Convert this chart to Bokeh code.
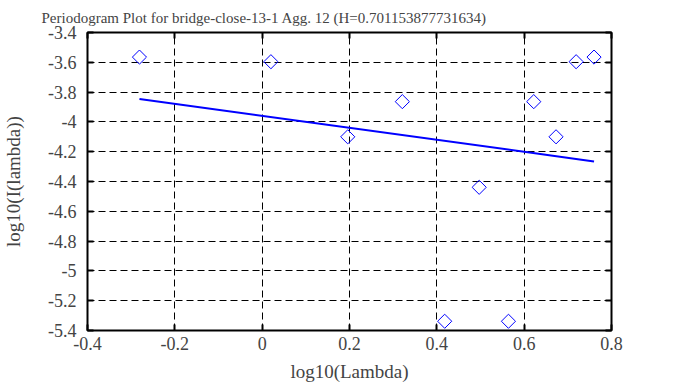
from bokeh.plotting import figure
from bokeh.models import LinearAxis, FixedTicker
from bokeh.embed import file_html
from bokeh.resources import INLINE

# data
log_lambda = [-0.281, 0.020, 0.196, 0.321, 0.418, 0.497, 0.564, 0.622, 0.673, 0.719, 0.760]
log_I = [-3.565, -3.596, -4.100, -3.864, -5.338, -4.439, -5.338, -3.864, -4.100, -3.596, -3.565]
fit_x = [-0.281, 0.760]
fit_y = [-3.846, -4.265]

x_ticks = [-0.4, -0.2, 0.0, 0.2, 0.4, 0.6, 0.8]
x_labels = ["-0.4", "-0.2", "0", "0.2", "0.4", "0.6", "0.8"]
y_ticks = [-5.4, -5.2, -5.0, -4.8, -4.6, -4.4, -4.2, -4.0, -3.8, -3.6, -3.4]
y_labels = ["-5.4", "-5.2", "-5", "-4.8", "-4.6", "-4.4", "-4.2", "-4", "-3.8", "-3.6", "-3.4"]

title_text = "Periodogram Plot for bridge-close-13-1 Agg. 12 (H=0.701153877731634)"
FONT = "Liberation Serif"

p = figure(width=695, height=387, x_range=(-0.4, 0.8), y_range=(-5.4, -3.4),
           output_backend="svg", toolbar_location=None,
           min_border_left=84, min_border_right=84, min_border_top=31, min_border_bottom=57)

p.title.text = title_text
p.title.text_font = FONT
p.title.text_font_size = "15px"
p.title.text_font_style = "normal"
p.title.text_line_height = 1.0
p.title.align = "left"
p.title.offset = -46
p.title.standoff = 14

p.outline_line_color = "black"
p.outline_line_width = 2
p.background_fill_color = "white"
p.border_fill_color = "white"

for ax, ticks, labels in ((p.xaxis[0], x_ticks, x_labels), (p.yaxis[0], y_ticks, y_labels)):
    ax.ticker = FixedTicker(ticks=ticks)
    ax.major_label_overrides = {t: l for t, l in zip(ticks, labels)}
    ax.major_label_text_font = FONT
    ax.major_label_text_font_size = "18px"
    ax.axis_label_text_font = FONT
    ax.axis_label_text_font_size = "19px"
    ax.axis_label_text_font_style = "normal"
    ax.axis_line_color = None
    ax.major_tick_in = 6
    ax.major_tick_out = 0
    ax.major_tick_line_width = 2
    ax.minor_tick_line_color = None

p.xaxis.axis_label = "log10(Lambda)"
p.yaxis.axis_label = "log10(I(lambda))"
p.xaxis.major_label_standoff = 6
p.xaxis.axis_label_standoff = 8
p.yaxis.major_label_standoff = 11
p.yaxis.axis_label_standoff = 21

for loc, ticks in (("above", x_ticks), ("right", y_ticks)):
    ax = LinearAxis(ticker=FixedTicker(ticks=ticks), major_label_text_font_size="0px",
                    major_label_text_color=None, major_label_standoff=0,
                    axis_line_color=None, major_tick_in=6,
                    major_tick_out=0, major_tick_line_width=2, minor_tick_line_color=None)
    p.add_layout(ax, loc)

for g, ticks in ((p.xgrid[0], x_ticks), (p.ygrid[0], y_ticks)):
    g.ticker = FixedTicker(ticks=ticks)
    g.grid_line_color = "black"
    g.grid_line_dash = "7 4"
    g.grid_line_width = 1

p.line(fit_x, fit_y, line_color="#0000ff", line_width=2)
p.scatter(log_lambda, log_I, marker="square", angle=0.785398, size=10,
          fill_color=None, line_color="#0000ff", line_width=1)

open("out.html", "w").write(file_html(p, INLINE))
